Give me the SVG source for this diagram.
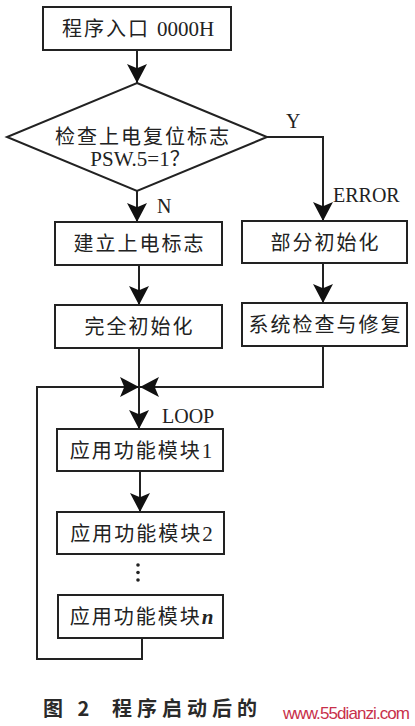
<svg xmlns="http://www.w3.org/2000/svg" width="415" height="726" viewBox="0 0 415 726">
<defs>
<marker id="ah" markerUnits="userSpaceOnUse" markerWidth="20" markerHeight="20" viewBox="0 0 18 19" refX="18" refY="9.5" orient="auto">
<path d="M0,0 L18,9.5 L0,19 L4,9.5 Z" fill="#111"/>
</marker>
<style>
.box{fill:#fff;stroke:#222;stroke-width:2}
.t{font-family:"Liberation Serif","Noto Sans CJK SC",serif;font-size:20px;fill:#222;text-anchor:middle;letter-spacing:2px}
.la{letter-spacing:0;font-size:21px}
.lbl{font-family:"Liberation Serif",serif;font-size:20px;fill:#222}
.ln{fill:none;stroke:#222;stroke-width:2}
.cap{font-family:"Noto Sans CJK SC",sans-serif;font-size:20px;font-weight:bold;fill:#2a2a2a;letter-spacing:5px}
</style>
</defs>
<rect width="415" height="726" fill="#fff"/>
<g id="connectors">
<path class="ln" d="M137,50 V83" marker-end="url(#ah)"/>
<path class="ln" d="M137,191 V222" marker-end="url(#ah)"/>
<path class="ln" d="M267,137 H323 V221" marker-end="url(#ah)"/>
<path class="ln" d="M139,265 V305" marker-end="url(#ah)"/>
<path class="ln" d="M323,263 V303" marker-end="url(#ah)"/>
<path class="ln" d="M139,348 V429" marker-end="url(#ah)"/>
<path class="ln" d="M323,346 V387 H140" marker-end="url(#ah)"/>
<path class="ln" d="M142,638 V659 H37 V387 H139" marker-end="url(#ah)"/>
<path class="ln" d="M140,471 V512" marker-end="url(#ah)"/>
<circle cx="138" cy="565" r="1.8" fill="#222"/>
<circle cx="138" cy="572.5" r="1.8" fill="#222"/>
<circle cx="138" cy="580" r="1.8" fill="#222"/>
</g>
<g id="labels">
<text class="lbl" x="286" y="128">Y</text>
<text class="lbl" x="333" y="202">ERROR</text>
<text class="lbl" x="157" y="213">N</text>
<text class="lbl" x="162" y="423">LOOP</text>
</g>
<g id="start">
<rect class="box" x="43" y="7" width="188" height="43"/>
<text class="t" x="138" y="36">程序入口 <tspan class="la">0000H</tspan></text>
</g>
<g id="check">
<polygon class="box" points="137,83 267,137 137,191 7,137"/>
<text class="t" x="143" y="144">检查上电复位标志</text>
<text class="t" x="141" y="166"><tspan class="la">PSW.5=1</tspan>？</text>
</g>
<g id="setflag">
<rect class="box" x="55" y="222" width="167" height="43"/>
<text class="t" x="139.5" y="251">建立上电标志</text>
</g>
<g id="partinit">
<rect class="box" x="242" y="221" width="165" height="42"/>
<text class="t" x="325.5" y="250">部分初始化</text>
</g>
<g id="fullinit">
<rect class="box" x="55" y="305" width="167" height="43"/>
<text class="t" x="139.5" y="334">完全初始化</text>
</g>
<g id="repair">
<rect class="box" x="242" y="303" width="165" height="43"/>
<text class="t" x="325.5" y="332">系统检查与修复</text>
</g>
<g id="mod1">
<rect class="box" x="57" y="429" width="166" height="42"/>
<text class="t" x="141" y="458">应用功能模块<tspan class="la">1</tspan></text>
</g>
<g id="mod2">
<rect class="box" x="57" y="512" width="167" height="42"/>
<text class="t" x="141.5" y="541">应用功能模块<tspan class="la">2</tspan></text>
</g>
<g id="modn">
<rect class="box" x="58" y="595" width="165" height="43"/>
<text class="t" x="141.5" y="624">应用功能模块<tspan class="la" font-style="italic" font-weight="bold">n</tspan></text>
</g>
<g id="caption">
<text class="cap" x="43" y="716">图 2</text>
<text class="cap" x="112" y="716">程序启动后的</text>
<text x="283" y="719" font-family="Liberation Sans, sans-serif" font-size="17" fill="#c8304a" textLength="127">www.55dianzi.com</text>
</g>
</svg>
